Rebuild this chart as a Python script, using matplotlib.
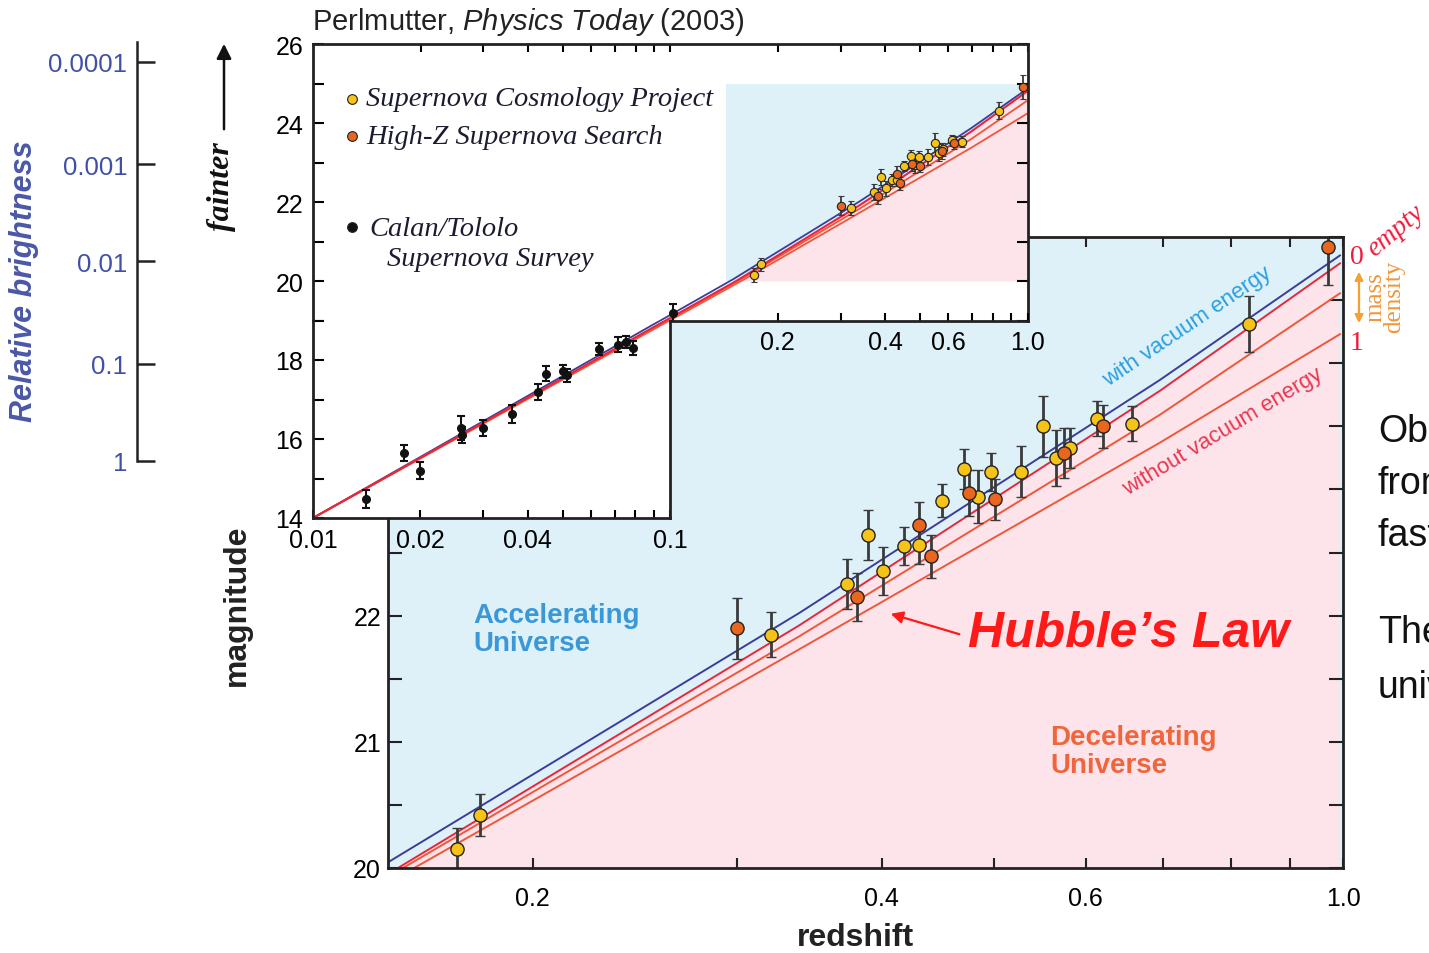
import numpy as np
import matplotlib
matplotlib.use('Agg')
import matplotlib.pyplot as plt
from matplotlib.patches import Rectangle, FancyArrowPatch
from matplotlib.ticker import FixedLocator, NullFormatter, NullLocator

plt.rcParams['font.family'] = ['Liberation Sans', 'DejaVu Sans']
plt.rcParams['mathtext.fontset'] = 'custom'
plt.rcParams['mathtext.it'] = 'Liberation Sans:italic'
plt.rcParams['mathtext.rm'] = 'Liberation Sans'

# ---------------- data ----------------
# Supernova Cosmology Project (yellow)
scp_z = [0.172, 0.180, 0.321, 0.373, 0.389, 0.401, 0.418, 0.431, 0.451, 0.471,
         0.484, 0.497, 0.527, 0.551, 0.565, 0.581, 0.614, 0.657, 0.830]
scp_m = [20.15, 20.42, 21.85, 22.25, 22.64, 22.35, 22.55, 22.56, 22.91, 23.16,
         22.94, 23.14, 23.14, 23.50, 23.25, 23.33, 23.56, 23.52, 24.31]
scp_e = [0.17, 0.17, 0.18, 0.20, 0.20, 0.19, 0.15, 0.15, 0.13, 0.16,
         0.21, 0.15, 0.20, 0.24, 0.22, 0.16, 0.14, 0.14, 0.22]

# High-Z Supernova Search (orange)
hz_z = [0.300, 0.381, 0.431, 0.441, 0.476, 0.501, 0.575, 0.621, 0.970]
hz_m = [21.90, 22.15, 22.72, 22.47, 22.97, 22.92, 23.29, 23.50, 24.92]
hz_e = [0.24, 0.19, 0.18, 0.17, 0.18, 0.16, 0.20, 0.17, 0.30]

# Calan/Tololo Supernova Survey (black, inset)
ct_z = [0.0141, 0.0180, 0.0200, 0.0260, 0.0262, 0.0299, 0.0360, 0.0428,
        0.0450, 0.0501, 0.0516, 0.0634, 0.0717, 0.0754, 0.0790, 0.1019]
ct_m = [14.48, 15.65, 15.20, 16.28, 16.11, 16.28, 16.63, 17.18,
        17.65, 17.71, 17.61, 18.28, 18.39, 18.45, 18.30, 19.19]
ct_e = [0.23, 0.21, 0.21, 0.30, 0.20, 0.21, 0.22, 0.20,
        0.19, 0.17, 0.17, 0.16, 0.18, 0.15, 0.18, 0.23]

# model curves: redshift and magnitude
vac_z = [0.01, 0.150, 0.340, 0.695, 0.994]
vac_m = [14.0, 20.045, 22.024, 23.867, 24.854]
empty_z = [0.01, 0.153, 0.340, 0.695, 0.994]
empty_m = [14.0, 20.0, 21.926, 23.781, 24.791]
half_z = [0.01, 0.1545, 0.340, 0.695, 0.994]
half_m = [14.0, 20.0, 21.839, 23.591, 24.554]
full_z = [0.01, 0.158, 0.340, 0.695, 0.994]
full_m = [14.0, 20.0, 21.736, 23.370, 24.230]

# relative brightness scale (label, magnitude)
bright_lbl = ['1', '0.1', '0.01', '0.001', '0.0001']
bright_mag = [15.45, 17.9, 20.5, 22.95, 25.55]

# region of the inset that the big panel zooms into
inset_zoom = [0.143, 1.0, 20.0, 25.0]

# ---------------- styling ----------------
W, H = 1429, 954
blue_bg = '#def1f9'
pink_bg = '#fce4ea'
c_vac = '#3c3c9c'
c_empty = '#e8263c'
c_matter = '#f0573a'
gold = '#f6c319'
orange = '#e8661e'
serif = ['Liberation Serif', 'DejaVu Serif']


def box(l, t, r, b):
    return [l / W, 1 - b / H, (r - l) / W, (b - t) / H]


def fx(px):
    return px / W


def fy(py):
    return 1 - py / H


fig = plt.figure(figsize=(W / 100, H / 100), dpi=100)

# ---------------- main plot ----------------
ax = fig.add_axes(box(388, 238, 1343, 869), zorder=1)
ax.set_facecolor(blue_bg)
ax.set_xscale('log')
ax.set_xlim(0.15, 1.0)
ax.set_ylim(20, 25)
ax.fill_between(empty_z, empty_m, 15, color=pink_bg, lw=0)
ax.plot(full_z, full_m, color=c_matter, lw=1.4)
ax.plot(half_z, half_m, color=c_matter, lw=1.4)
ax.plot(empty_z, empty_m, color=c_empty, lw=1.4)
ax.plot(vac_z, vac_m, color=c_vac, lw=1.4)
eb = dict(fmt='o', ms=9.5, mec='#222', mew=1.0, ecolor='#3a3a3a',
          elinewidth=2, capsize=3.8, capthick=2)
ax.errorbar(scp_z, scp_m, yerr=scp_e, mfc=gold, **eb)
ax.errorbar(hz_z, hz_m, yerr=hz_e, mfc=orange, **eb)

ax.xaxis.set_major_locator(FixedLocator([0.2, 0.4, 0.6, 1.0]))
ax.set_xticklabels(['0.2', '0.4', '0.6', '1.0'])
ax.xaxis.set_minor_locator(FixedLocator([0.3, 0.5, 0.7, 0.8, 0.9]))
ax.xaxis.set_minor_formatter(NullFormatter())
ax.set_yticks([20, 21, 22, 23, 24, 25])
ax.set_yticklabels(['20', '21', '22', '', '', ''])
ax.set_yticks([20.5, 21.5, 22.5, 23.5, 24.5], minor=True)
ax.tick_params(which='both', direction='in', top=True, right=True,
               labelsize=18, width=1.5, color='#222')
ax.tick_params(axis='y', which='both', length=10, pad=5)
ax.tick_params(axis='x', which='both', length=7, pad=13)
for s in ax.spines.values():
    s.set_linewidth(2)
    s.set_color('#222')

# ---------------- inset (upper part) ----------------
axA = fig.add_axes(box(313, 45, 1027.5, 321.5), zorder=2)
axA.set_xscale('log')
axA.set_xlim(0.01, 1.0)
axA.set_ylim(19, 26)
rect = Rectangle((inset_zoom[0], inset_zoom[2]), inset_zoom[1] - inset_zoom[0],
                 inset_zoom[3] - inset_zoom[2], color=blue_bg, lw=0)
axA.add_patch(rect)
pk = axA.fill_between(empty_z, np.clip(empty_m, inset_zoom[2], inset_zoom[3]),
                      inset_zoom[2], color=pink_bg, lw=0)
pk.set_clip_path(rect)

# ---------------- inset (lower-left part) ----------------
axB = fig.add_axes(box(313, 321.5, 670, 519), zorder=2)
axB.set_xscale('log')
axB.set_xlim(0.01, 0.1)
axB.set_ylim(14, 19)

ieb = dict(fmt='o', ms=6, mec='#222', mew=0.8, ecolor='#3a3a3a',
           elinewidth=1.3, capsize=2.5, capthick=1.3)
for a in (axA, axB):
    a.plot(vac_z, vac_m, color=c_vac, lw=1.3)
    a.plot(full_z, full_m, color=c_matter, lw=1.3)
    a.plot(half_z, half_m, color=c_matter, lw=1.3)
    a.plot(empty_z, empty_m, color=c_empty, lw=1.5)
    a.errorbar(ct_z, ct_m, yerr=ct_e, fmt='o', ms=5.5, color='#111',
               elinewidth=1.5, capsize=2.8, capthick=1.5)
    a.errorbar(scp_z, scp_m, yerr=scp_e, mfc=gold, **ieb)
    a.errorbar(hz_z, hz_m, yerr=hz_e, mfc=orange, **ieb)
    for s in a.spines.values():
        s.set_linewidth(2)
        s.set_color('#222')

# upper part ticks
axA.xaxis.set_major_locator(FixedLocator([0.02, 0.03, 0.04, 0.05, 0.06, 0.07, 0.08, 0.09, 0.1,
                                          0.2, 0.3, 0.4, 0.5, 0.6, 0.7, 0.8, 0.9, 1.0]))
axA.xaxis.set_major_formatter(NullFormatter())
axA.xaxis.set_minor_locator(NullLocator())
axA.set_yticks(range(19, 27))
axA.set_yticklabels(['', '20', '', '22', '', '24', '', '26'])
axA.tick_params(axis='x', direction='in', bottom=False, top=True, length=6, width=1.5)
axA.tick_params(axis='y', direction='in', right=True, length=8, width=1.5,
                labelsize=18, pad=7)
axA.spines['bottom'].set_visible(False)

# bottom edge of the upper part (0.1 .. 1.0)
axS = fig.add_axes(box(670, 45, 1027.5, 321.5), zorder=3)
axS.patch.set_visible(False)
axS.set_xscale('log')
axS.set_xlim(0.1, 1.0)
for k in ('top', 'left', 'right'):
    axS.spines[k].set_visible(False)
axS.spines['bottom'].set_linewidth(2)
axS.spines['bottom'].set_color('#222')
axS.xaxis.set_major_locator(FixedLocator([0.2, 0.4, 0.6, 1.0]))
axS.set_xticklabels(['0.2', '0.4', '0.6', '1.0'])
axS.xaxis.set_minor_locator(FixedLocator([0.3, 0.5, 0.7, 0.8, 0.9]))
axS.xaxis.set_minor_formatter(NullFormatter())
axS.set_yticks([])
axS.tick_params(axis='x', which='both', direction='in', length=6, width=1.5,
                labelsize=18, pad=7)

# lower part ticks
axB.xaxis.set_major_locator(FixedLocator([0.01, 0.02, 0.04, 0.1]))
axB.set_xticklabels(['0.01', '0.02', '0.04', '0.1'])
axB.xaxis.set_minor_locator(FixedLocator([0.03, 0.05, 0.06, 0.07, 0.08, 0.09]))
axB.xaxis.set_minor_formatter(NullFormatter())
axB.set_yticks(range(14, 20))
axB.set_yticklabels(['14', '', '16', '', '18', ''])
axB.tick_params(axis='x', which='both', direction='in', length=6, width=1.5,
                labelsize=18, pad=7)
axB.tick_params(axis='y', direction='in', length=8, width=1.5, labelsize=18, pad=7)
axB.spines['top'].set_visible(False)

# inset legend
leg_font = dict(family=serif, style='italic', size=20.5, color='#1c1c30',
                va='center', ha='left', zorder=6)
for py, col in ((100, gold), (137, orange), (228, '#111')):
    fig.add_artist(plt.Line2D([fx(351.5)], [fy(py)], marker='o', ms=7,
                              mfc=col, mec='#222', mew=0.8, ls='none', zorder=6))
fig.text(fx(366), fy(100), 'Supernova Cosmology Project', **leg_font)
fig.text(fx(366), fy(137), 'High-Z Supernova Search', **leg_font)
fig.text(fx(369), fy(229), 'Calan/Tololo', **leg_font)
fig.text(fx(387), fy(260), 'Supernova Survey', **leg_font)

# ---------------- relative brightness scale ----------------
axL = fig.add_axes(box(137, 45, 152, 519), zorder=0)
axL.patch.set_visible(False)
axL.set_ylim(14, 26)
for k in ('top', 'bottom', 'right'):
    axL.spines[k].set_visible(False)
axL.spines['left'].set_bounds(bright_mag[0], 26.05)
axL.spines['left'].set_linewidth(1.8)
axL.spines['left'].set_color('#222')
axL.set_xticks([])
axL.set_yticks(bright_mag)
axL.set_yticklabels(bright_lbl)
axL.tick_params(axis='y', direction='in', length=13, width=1.8, color='#222',
                labelsize=18.5, labelcolor='#4050a8', pad=7)
fig.text(fx(24), fy(281), 'Relative brightness', rotation=90, ha='center', va='center',
         fontsize=22, fontweight='bold', style='italic', color='#4a58a8')

fig.text(fx(222), fy(187), 'fainter', rotation=90, ha='center', va='center',
         family=serif, style='italic', fontweight='bold', fontsize=23, color='#111')
fig.add_artist(FancyArrowPatch((fx(224), fy(133)), (fx(224), fy(42)),
                               transform=fig.transFigure, arrowstyle='-|>',
                               mutation_scale=22, color='#111', lw=1.8))

# ---------------- titles and labels ----------------
fig.text(fx(312), fy(22), r'Perlmutter, $\mathit{Physics\ Today}$ (2003)', ha='left',
         va='center', fontsize=21, color='#222')
fig.text(fx(855), fy(938), 'redshift', ha='center', va='center', fontsize=23,
         fontweight='bold', color='#222')
fig.text(fx(237), fy(605), 'magnitude', rotation=90, ha='center', va='center',
         fontsize=23, fontweight='bold', color='#222')

fig.text(fx(473), fy(630), 'Accelerating\nUniverse', ha='left', va='center',
         fontsize=20, fontweight='bold', color='#3a98d8', linespacing=1.1, zorder=5)
fig.text(fx(1050), fy(752), 'Decelerating\nUniverse', ha='left', va='center',
         fontsize=20, fontweight='bold', color='#f0653c', linespacing=1.1, zorder=5)
fig.text(fx(1187), fy(327), 'with vacuum energy', rotation=34, rotation_mode='anchor',
         ha='center', va='center', fontsize=16, color='#2a9fe0', zorder=5)
fig.text(fx(1223), fy(432), 'without vacuum energy', rotation=31, rotation_mode='anchor',
         ha='center', va='center', fontsize=16, color='#e8384f', zorder=5)

fig.text(fx(968), fy(634), 'Hubble\u2019s Law', ha='left', va='center', fontsize=36,
         fontweight='bold', style='italic', color='#ff1a1a', zorder=5)
fig.add_artist(FancyArrowPatch((fx(962), fy(636)), (fx(888), fy(614)),
                               transform=fig.transFigure, arrowstyle='-|>',
                               mutation_scale=18, color='#ff1a1a', lw=1.6, zorder=5))

# mass density key on the right
fig.text(fx(1357), fy(257), '0', ha='center', va='center', family=serif,
         fontsize=20, color='#ee1c3c')
fig.text(fx(1357), fy(343), '1', ha='center', va='center', family=serif,
         fontsize=20, color='#ee1c3c')
fig.text(fx(1370), fy(252), 'empty', rotation=40, rotation_mode='anchor', ha='left',
         va='center', family=serif, style='italic', fontsize=20, color='#ee1c3c')
fig.text(fx(1385), fy(297), 'mass\ndensity', rotation=90, ha='center', va='center',
         family=serif, fontsize=18, color='#f0963a', linespacing=0.8)
fig.add_artist(FancyArrowPatch((fx(1359), fy(270)), (fx(1359), fy(327)),
                               transform=fig.transFigure, arrowstyle='<|-|>',
                               mutation_scale=12, color='#f5a030', lw=1.6))

# slide text running off the right edge
for py, word in ((432, 'Observations'), (484, 'from'), (536, 'faster'),
                 (633, 'The'), (688, 'universe')):
    fig.text(fx(1378), fy(py), word, ha='left', va='center', fontsize=27, color='#111')

fig.savefig('out.png', dpi=100)
